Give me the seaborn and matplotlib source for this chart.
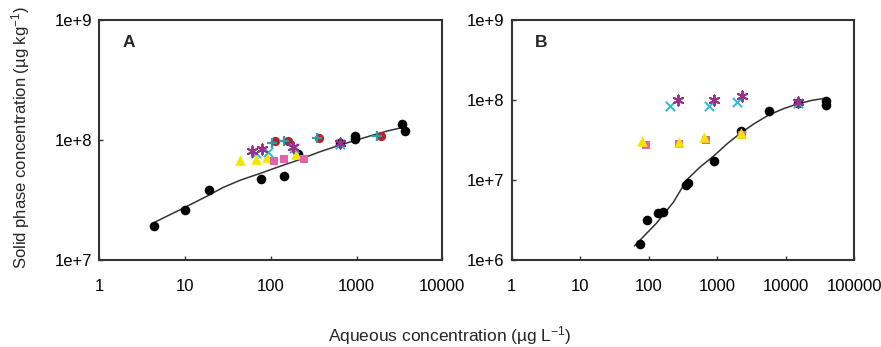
import numpy as np
import pandas as pd
import seaborn as sns
import matplotlib.pyplot as plt
from matplotlib.ticker import FixedLocator, FuncFormatter

# ---- panel A data (aqueous ug/L, solid ug/kg) ----
a_black_x = [4.4, 10, 19.2, 76, 142, 210, 641, 960, 960, 3420, 3670]
a_black_y = [1.93e7, 2.62e7, 3.83e7, 4.73e7, 5.04e7, 7.7e7, 9.4e7, 1.09e8, 1.01e8, 1.37e8, 1.19e8]
a_red_x = [112, 157, 368, 1907]
a_red_y = [9.87e7, 9.87e7, 1.04e8, 1.07e8]
a_plus_x = [102, 144, 343, 1746]
a_plus_y = [9.5e7, 9.87e7, 1.04e8, 1.08e8]
a_star_x = [61, 78, 180, 641]
a_star_y = [8.1e7, 8.47e7, 8.8e7, 9.4e7]
a_cross_x = [68, 93.5, 186, 641]
a_cross_y = [7.75e7, 8.0e7, 8.5e7, 9.3e7]
a_tri_x = [43.7, 68, 89.5, 195]
a_tri_y = [6.8e7, 6.95e7, 7.26e7, 7.64e7]
a_sq_x = [109, 142, 246]
a_sq_y = [6.72e7, 6.9e7, 6.99e7]
a_fit_x = [4.4, 10, 18, 27.9, 45, 76, 125, 209, 360, 641, 1000, 1567, 2300, 3420]
a_fit_y = [2.06e7, 2.75e7, 3.4e7, 4.03e7, 4.65e7, 5.28e7, 6.0e7, 6.8e7, 7.9e7, 9.08e7, 1.0e8, 1.1e8, 1.19e8, 1.27e8]

# ---- panel B data ----
b_black_x = [75.5, 94, 136, 160, 350, 380, 901, 2200, 5750, 15200, 38400, 38400]
b_black_y = [1.6e6, 3.15e6, 3.82e6, 3.93e6, 8.6e6, 9.2e6, 1.75e7, 4.06e7, 7.2e7, 9.3e7, 9.6e7, 8.74e7]
b_cross_x = [206, 745, 1930, 15200]
b_cross_y = [8.5e7, 8.5e7, 9.44e7, 9.3e7]
b_star_x = [264, 901, 2280, 15200]
b_star_y = [9.9e7, 9.9e7, 1.11e8, 9.5e7]
b_tri_x = [80, 273, 630, 2240]
b_tri_y = [3.05e7, 3.02e7, 3.46e7, 3.88e7]
b_sq_x = [91.5, 279, 682, 2280]
b_sq_y = [2.77e7, 2.83e7, 3.17e7, 3.7e7]
b_fit_x = [62, 132, 230, 361, 560, 901, 1400, 2200, 3500, 5750, 9300, 15200, 24000, 39500]
b_fit_y = [1.5e6, 2.93e6, 5.3e6, 1.01e7, 1.45e7, 2.02e7, 2.85e7, 3.88e7, 5.1e7, 6.56e7, 7.8e7, 9.0e7, 9.9e7, 1.06e8]

sns.set_style('white')
plt.rcParams['font.family'] = ['Liberation Sans', 'DejaVu Sans']
plt.rcParams['mathtext.default'] = 'regular'

fig = plt.figure(figsize=(8.81, 3.47), dpi=100)
axA = fig.add_axes([0.1127, 0.2507, 0.3893, 0.6917])
axB = fig.add_axes([0.5806, 0.2507, 0.3893, 0.6917])


def pts(ax, x, y, marker, color, size, lw=0, ec=None, z=3):
    df = pd.DataFrame({'x': x, 'y': y})
    sns.scatterplot(data=df, x='x', y='y', ax=ax, marker=marker, color=color, s=size,
                    linewidth=lw, edgecolor=ec if ec else color, zorder=z)


def fit(ax, x, y):
    df = pd.DataFrame({'x': x, 'y': y})
    sns.lineplot(data=df, x='x', y='y', ax=ax, color='#333333', linewidth=1.1, sort=False, zorder=2)


# panel A
fit(axA, a_fit_x, a_fit_y)
pts(axA, a_black_x, a_black_y, 'o', 'black', 48)
pts(axA, a_tri_x, a_tri_y, '^', '#f2e600', 58)
pts(axA, a_sq_x, a_sq_y, 's', '#e064ac', 40)
pts(axA, a_red_x, a_red_y, 'o', '#b3262c', 45)
pts(axA, a_plus_x, a_plus_y, '+', '#2a9fa6', 45, lw=1.6)
pts(axA, a_cross_x, a_cross_y, 'x', '#2ebad6', 45, lw=1.4)
pts(axA, a_star_x, a_star_y, (6, 2, 0), '#9a2f8e', 55, lw=1.4)

# panel B
fit(axB, b_fit_x, b_fit_y)
pts(axB, b_black_x, b_black_y, 'o', 'black', 48)
pts(axB, b_sq_x, b_sq_y, 's', '#e064ac', 40)
pts(axB, b_tri_x, b_tri_y, '^', '#f2e600', 58)
pts(axB, b_cross_x, b_cross_y, 'x', '#2ebad6', 45, lw=1.4)
pts(axB, b_star_x, b_star_y, (6, 2, 0), '#9a2f8e', 55, lw=1.4)

ylims = [(1e7, 1e9), (1e6, 1e9)]
xlims = [(1, 1e4), (1, 1e5)]
for ax, yl, xl, lab in zip([axA, axB], ylims, xlims, ['A', 'B']):
    ax.set_xscale('log')
    ax.set_yscale('log')
    ax.set_xlim(*xl)
    ax.set_ylim(*yl)
    xt = [10 ** k for k in range(int(np.log10(xl[0])), int(np.log10(xl[1])) + 1)]
    yt = [10 ** k for k in range(int(np.log10(yl[0])), int(np.log10(yl[1])) + 1)]
    ax.xaxis.set_major_locator(FixedLocator(xt))
    ax.yaxis.set_major_locator(FixedLocator(yt))
    ax.xaxis.set_minor_locator(FixedLocator([]))
    ax.yaxis.set_minor_locator(FixedLocator([]))
    ax.xaxis.set_major_formatter(FuncFormatter(lambda v, p: '%d' % round(v)))
    ax.yaxis.set_major_formatter(FuncFormatter(lambda v, p: '1e+%d' % round(np.log10(v))))
    ax.tick_params(direction='in', length=3, width=1, labelsize=12, colors='#333333',
                   labelcolor='black', left=True, bottom=True)
    ax.tick_params(axis='x', pad=14)
    ax.tick_params(axis='y', pad=5)
    for s in ax.spines.values():
        s.set_color('#333333')
        s.set_linewidth(1.5)
    ax.set_xlabel('')
    ax.set_ylabel('')
    ax.text(0.067, 0.905, lab, transform=ax.transAxes, fontsize=12.5, fontweight='bold',
            ha='left', va='center')

fig.text(0.023, 0.603, 'Solid phase concentration (µg kg$^{-1}$)', rotation=90,
         ha='center', va='center', fontsize=12)
fig.text(0.511, 0.032, 'Aqueous concentration (µg L$^{-1}$)', ha='center', va='center',
         fontsize=12.5)

fig.savefig('out.png', dpi=100)
